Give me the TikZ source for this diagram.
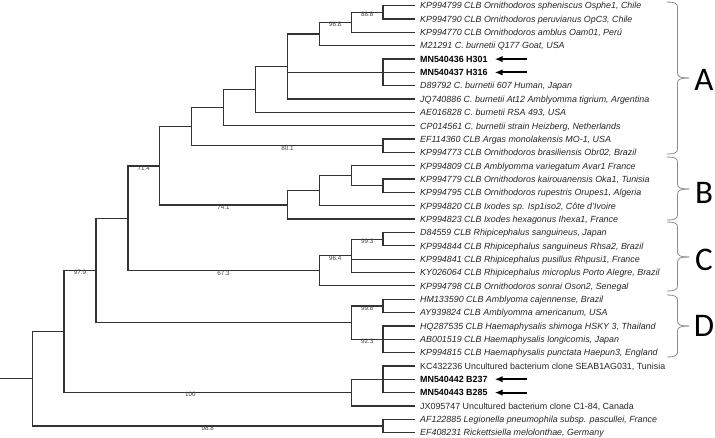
\documentclass[tikz,border=0pt]{standalone}
\usepackage{fontspec}
\setmainfont{Liberation Sans}
\newfontfamily\cladefont{Carlito}
\usepackage{tikz}
\usetikzlibrary{
	arrows.meta,
	positioning
}

\newcommand{\clbrace}[3]{%
    \draw[brace] (667,#1) .. controls (674,#1) and (677.5,#1+1) .. (677.5,#1+5)
        -- (677.5,#2-5) .. controls (677.5,#2-1) and (681,#2) .. (689,#2);
    \draw[brace] (667,#3) .. controls (674,#3) and (677.5,#3-1) .. (677.5,#3-5)
        -- (677.5,#2+5) .. controls (677.5,#2+1) and (681,#2) .. (689,#2);
}

\begin{document}
\begin{tikzpicture}[
            x=1pt, y=-1pt,
            branch/.style={draw=black!80, line width=1.25pt},
            leaf/.style={
                anchor=west,
                inner xsep=5pt,
                inner ysep=0pt,
                text height=7pt,
                text depth=0.6pt,
                text=black!85,
                font=\fontsize{8.9}{10}\selectfont\itshape
            },
            plain/.style={leaf,font=\fontsize{8.9}{10}\selectfont},
            ours/.style={leaf,text=black,font=\fontsize{8.9}{10}\selectfont\bfseries},
            boot/.style={
                pos=0.75,
                anchor=north,
                inner sep=0pt,
                yshift=0.8pt,
                text=black!75,
                font=\fontsize{6.3}{7}\selectfont
            },
            brace/.style={draw=black!45, line width=0.8pt},
            clade/.style={font=\cladefont\fontsize{33}{36}\selectfont},
            arr/.style={-{Latex[length=8pt,width=6.5pt]}, line width=2pt, shorten >=2pt}
        ]
            \useasboundingbox (0,0) rectangle (715,437);

            \node[leaf] (l1) at (415,5.7) {KP994799 CLB Ornithodoros spheniscus Osphe1, Chile};
            \node[leaf] (l2) at (415,19.0) {KP994790 CLB Ornithodoros peruvianus OpC3, Chile};
            \node[leaf] (l3) at (415,32.4) {KP994770 CLB Ornithodoros amblus Oam01, Perú};
            \node[leaf] (l4) at (415,45.7) {M21291 C. burnetii Q177 Goat, USA};
            \node[ours] (l5) at (415,59.1) {MN540436 H301};
            \node[ours] (l6) at (415,72.4) {MN540437 H316};
            \node[leaf] (l7) at (415,85.7) {D89792 C. burnetii 607 Human, Japan};
            \node[leaf] (l8) at (415,99.1) {JQ740886 C. burnetii At12 Amblyomma tigrium, Argentina};
            \node[leaf] (l9) at (415,112.4) {AE016828 C. burnetii RSA 493, USA};
            \node[leaf] (l10) at (415,125.8) {CP014561 C. burnetii strain Heizberg, Netherlands};
            \node[leaf] (l11) at (415,139.1) {EF114360 CLB Argas monolakensis MO-1, USA};
            \node[leaf] (l12) at (415,152.4) {KP994773 CLB Ornithodoros brasiliensis Obr02, Brazil};
            \node[leaf] (l13) at (415,165.8) {KP994809 CLB Amblyomma variegatum Avar1 France};
            \node[leaf] (l14) at (415,179.1) {KP994779 CLB Ornithodoros kairouanensis Oka1, Tunisia};
            \node[leaf] (l15) at (415,192.5) {KP994795 CLB Ornithodoros rupestris Orupes1, Algeria};
            \node[leaf] (l16) at (415,205.8) {KP994820 CLB Ixodes sp. Isp1iso2, Côte d'Ivoire};
            \node[leaf] (l17) at (415,219.1) {KP994823 CLB Ixodes hexagonus Ihexa1, France};
            \node[leaf] (l18) at (415,232.5) {D84559 CLB Rhipicephalus sanguineus, Japan};
            \node[leaf] (l19) at (415,245.8) {KP994844 CLB Rhipicephalus sanguineus Rhsa2, Brazil};
            \node[leaf] (l20) at (415,259.2) {KP994841 CLB Rhipicephalus pusillus Rhpusi1, France};
            \node[leaf] (l21) at (415,272.5) {KY026064 CLB Rhipicephalus microplus Porto Alegre, Brazil};
            \node[leaf] (l22) at (415,285.8) {KP994798 CLB Ornithodoros sonrai Oson2, Senegal};
            \node[leaf] (l23) at (415,299.2) {HM133590 CLB Amblyoma cajennense, Brazil};
            \node[leaf] (l24) at (415,312.5) {AY939824 CLB Amblyomma americanum, USA};
            \node[leaf] (l25) at (415,325.9) {HQ287535 CLB Haemaphysalis shimoga HSKY 3, Thailand};
            \node[leaf] (l26) at (415,339.2) {AB001519 CLB Haemaphysalis longicornis, Japan};
            \node[leaf] (l27) at (415,352.5) {KP994815 CLB Haemaphysalis punctata Haepun3, England};
            \node[plain] (l28) at (415,365.9) {KC432236 Uncultured bacterium clone SEAB1AG031, Tunisia};
            \node[ours] (l29) at (415,379.2) {MN540442 B237};
            \node[ours] (l30) at (415,392.6) {MN540443 B285};
            \node[plain] (l31) at (415,405.9) {JX095747 Uncultured bacterium clone C1-84, Canada};
            \node[leaf] (l32) at (415,419.2) {AF122885 Legionella pneumophila subsp. pascullei, France};
            \node[leaf] (l33) at (415,432.6) {EF408231 Rickettsiella melolonthae, Germany};

            \coordinate (chile) at (383.1,12.4);
            \coordinate (peru) at (351.2,22.4);
            \coordinate (goat) at (319.3,34.05);
            \coordinate (ours1) at (383.1,72.4);
            \coordinate (burnetii) at (287.4,66.6);
            \coordinate (rsa) at (255.5,89.5);
            \coordinate (heiz) at (223.6,107.6);
            \coordinate (argas) at (383.1,145.8);
            \coordinate (cladeA) at (191.7,126.7);
            \coordinate (oka) at (383.1,185.8);
            \coordinate (avar) at (351.2,175.8);
            \coordinate (ixodes) at (319.3,190.8);
            \coordinate (cladeB) at (287.4,205.0);
            \coordinate (ab) at (159.8,165.9);
            \coordinate (rhsa) at (383.1,239.2);
            \coordinate (rhipi) at (351.2,255.8);
            \coordinate (cladeC) at (319.3,270.8);
            \coordinate (abc) at (127.9,218.4);
            \coordinate (amblyo) at (383.1,305.9);
            \coordinate (haema) at (383.1,339.2);
            \coordinate (cladeD) at (351.2,322.5);
            \coordinate (abcd) at (96,270.5);
            \coordinate (ours2) at (383.1,379.2);
            \coordinate (uncult) at (351.2,392.6);
            \coordinate (ingroup) at (64.1,331.5);
            \coordinate (outgroup) at (383.1,425.9);
            \coordinate (root) at (32.2,378.7);
            \coordinate (base) at (0,378.7);

            \draw[branch] (chile) |- (l1.west) (chile) |- (l2.west);
            \draw[branch] (peru) |- node[boot] {88.8} (chile);
            \draw[branch] (peru) |- (l3.west);
            \draw[branch] (goat) |- node[boot] {96.8} (peru);
            \draw[branch] (goat) |- (l4.west);
            \draw[branch] (ours1) |- (l5.west) (ours1) |- (l6.west) (ours1) |- (l7.west);
            \draw[branch] (burnetii) |- (goat) (burnetii) |- (ours1) (burnetii) |- (l8.west);
            \draw[branch] (rsa) |- (burnetii) (rsa) |- (l9.west);
            \draw[branch] (heiz) |- (rsa) (heiz) |- (l10.west);
            \draw[branch] (argas) |- (l11.west) (argas) |- (l12.west);
            \draw[branch] (cladeA) |- (heiz);
            \draw[branch] (cladeA) |- node[boot] {80.1} (argas);
            \draw[branch] (oka) |- (l14.west) (oka) |- (l15.west);
            \draw[branch] (avar) |- (l13.west) (avar) |- (oka);
            \draw[branch] (ixodes) |- (avar) (ixodes) |- (l16.west);
            \draw[branch] (cladeB) |- (ixodes) (cladeB) |- (l17.west);
            \draw[branch] (ab) |- (cladeA);
            \draw[branch] (ab) |- node[boot] {74.1} (cladeB);
            \draw[branch] (rhsa) |- (l18.west) (rhsa) |- (l19.west);
            \draw[branch] (rhipi) |- node[boot] {99.3} (rhsa);
            \draw[branch] (rhipi) |- (l20.west) (rhipi) |- (l21.west);
            \draw[branch] (cladeC) |- node[boot] {96.4} (rhipi);
            \draw[branch] (cladeC) |- (l22.west);
            \draw[branch] (abc) |- node[boot] {71.4} (ab);
            \draw[branch] (abc) |- node[boot] {67.3} (cladeC);
            \draw[branch] (amblyo) |- (l23.west) (amblyo) |- (l24.west);
            \draw[branch] (haema) |- (l25.west) (haema) |- (l26.west) (haema) |- (l27.west);
            \draw[branch] (cladeD) |- node[boot] {99.8} (amblyo);
            \draw[branch] (cladeD) |- node[boot] {92.3} (haema);
            \draw[branch] (abcd) |- (abc) (abcd) |- (cladeD);
            \draw[branch] (ours2) |- (l28.west) (ours2) |- (l29.west) (ours2) |- (l30.west);
            \draw[branch] (uncult) |- (ours2) (uncult) |- (l31.west);
            \draw[branch] (ingroup) |- node[boot] {97.9} (abcd);
            \draw[branch] (ingroup) |- node[boot,pos=0.72] {100} (uncult);
            \draw[branch] (outgroup) |- (l32.west) (outgroup) |- (l33.west);
            \draw[branch] (root) |- (ingroup);
            \draw[branch] (root) |- node[boot] {98.8} (outgroup);
            \draw[branch] (base) -- (root);

            \coordinate[right=34pt of l5.east] (p5);
            \coordinate[right=34pt of l6.east] (p6);
            \coordinate[right=34pt of l29.east] (p29);
            \coordinate[right=34pt of l30.east] (p30);
            \draw[arr] (p5) -- (l5.east);
            \draw[arr] (p6) -- (l6.east);
            \draw[arr] (p29) -- (l29.east);
            \draw[arr] (p30) -- (l30.east);

            \clbrace{2}{78}{154}
            \clbrace{157}{189}{220}
            \clbrace{222}{257}{291}
            \clbrace{295}{326}{357}

            \node[clade] (cA) at (704,80) {A};
            \node[clade] (cB) at (704,193) {B};
            \node[clade] (cC) at (704,260) {C};
            \node[clade] (cD) at (704,326) {D};
        \end{tikzpicture}
\end{document}
